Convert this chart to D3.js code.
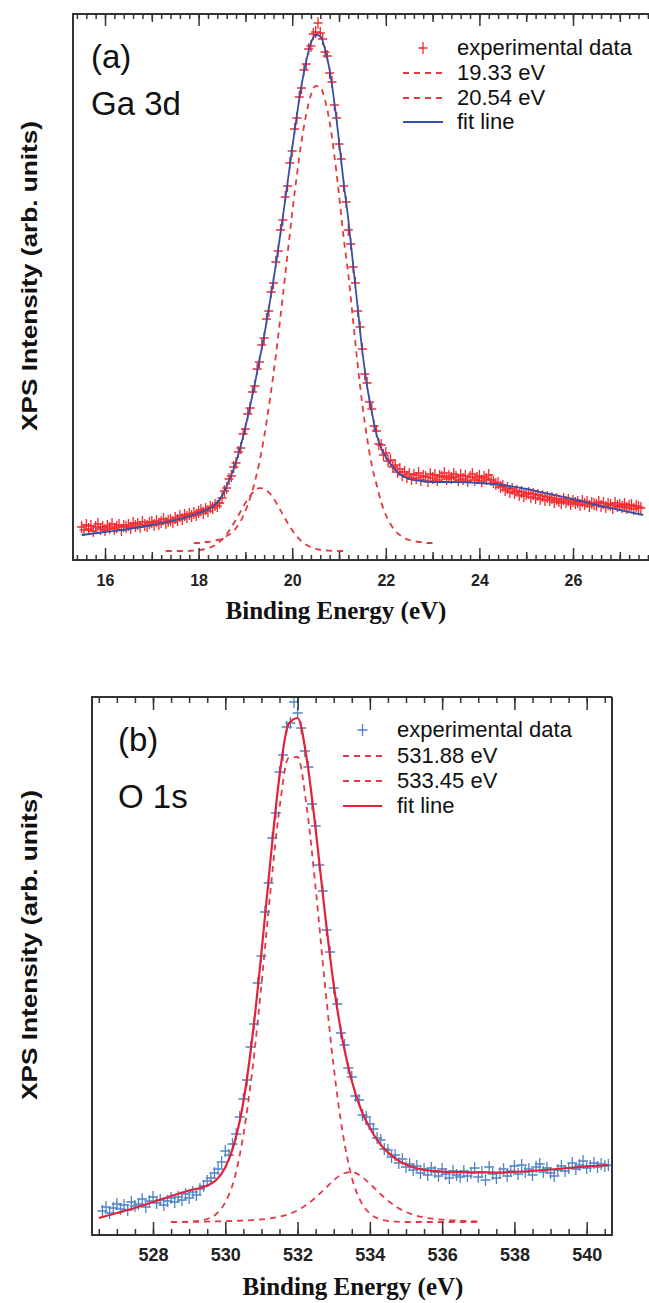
<!DOCTYPE html>
<html>
<head>
<meta charset="utf-8">
<script src="https://cdn.jsdelivr.net/npm/d3@7"></script>
<style>
  body { margin: 0; background: #fff; }
  svg { display: block; }
  .tick text { font-family: "Liberation Sans", Arial, sans-serif; font-weight: bold; fill: #222; }
  .lab { font-family: "Liberation Sans", Arial, sans-serif; fill: #111; }
  .xtitle { font-family: "Liberation Serif", "Times New Roman", serif; font-weight: bold; fill: #111; }
</style>
</head>
<body>
<svg id="chart" width="649" height="1303"></svg>
<script>
// ---- panel (a): Ga 3d ----
var gaStart = 15.5, gaStep = 0.05;   // measurement grid (eV)
var gaCounts = [
  33, 30, 35, 31, 34, 29, 33, 36, 31, 33, 30, 34, 32, 36, 31, 33, 35, 30, 34, 33,
  35, 32, 37, 34, 36, 33, 38, 35, 34, 37, 38, 35, 39, 36, 38, 41, 37, 39, 40, 38,
  42, 40, 44, 41, 45, 43, 46, 44, 47, 45, 48, 50, 47, 51, 49, 53, 52, 55, 54, 57,
  62, 69, 72, 81, 84, 93, 97, 108, 112, 126, 131, 146, 152, 168, 174, 191, 198, 215, 222, 241,
  249, 268, 277, 298, 309, 330, 340, 363, 374, 397, 409, 431, 442, 463, 472, 490, 496, 511, 514, 526,
  528, 537, 527, 521, 508, 504, 487, 478, 455, 442, 416, 401, 374, 358, 330, 316, 293, 277, 249, 233,
  211, 186, 177, 158, 151, 134, 129, 116, 115, 105, 107, 99, 100, 93, 95, 88, 91, 85, 88, 83,
  86, 81, 85, 82, 87, 80, 84, 83, 79, 86, 82, 85, 80, 84, 83, 87, 81, 84, 82, 86,
  83, 80, 85, 81, 84, 79, 83, 86, 80, 82, 84, 79, 83, 81, 85, 80, 78, 76, 77, 73,
  74, 70, 72, 68, 71, 67, 69, 65, 68, 64, 66, 67, 63, 66, 62, 65, 61, 64, 60, 63,
  60, 62, 58, 61, 59, 57, 61, 58, 60, 56, 59, 57, 58, 55, 59, 56, 58, 54, 57, 56,
  55, 58, 54, 57, 53, 56, 55, 52, 57, 54, 55, 53, 56, 52, 54, 55, 51, 54, 53, 52
];
var gaCompStep = 0.1;
var gaPeak1Start = 17.3;  // 19.33 eV component
var gaPeak1 = [9, 9, 9, 9, 9, 9.2, 9.4, 9.8, 10.5, 11.7, 13.6, 16.4, 20.5, 25.9, 32.6, 40.5, 48.9, 57.1, 64.3, 69.4,
  71.9, 71.2, 67.7, 61.6, 53.9, 45.5, 37.2, 29.8, 23.6, 18.7, 15.2, 12.7, 11.1, 10.2, 9.6, 9.3, 9.1, 9, 9, 9];
var gaPeak2Start = 17.9;  // 20.54 eV component
var gaPeak2 = [17, 17, 18, 18, 19, 20, 21, 24, 27, 32, 39, 49, 62, 78, 98, 123, 153, 186, 224, 264, 306,
  347, 385, 419, 446, 465, 474, 473, 460, 438, 405, 365, 322, 285, 240, 195, 155, 122, 95, 76, 58,
  45, 36, 29, 25, 22, 20, 19, 18, 18, 17, 17, 17];
var gaFitEnergy = [15.5, 16, 16.5, 17, 17.5, 18, 18.25, 18.5, 18.6, 18.7, 18.8, 18.9, 19.0, 19.1, 19.2, 19.3, 19.4,
  19.5, 19.6, 19.7, 19.8, 19.9, 20.0, 20.1, 20.2, 20.3, 20.4, 20.5, 20.6, 20.7, 20.8, 20.9, 21.0, 21.1, 21.2,
  21.3, 21.4, 21.5, 21.6, 21.7, 21.8, 21.9, 22.0, 22.1, 22.2, 22.3, 22.4, 22.5, 22.75, 23, 23.5, 24, 24.5,
  25, 25.5, 26, 26.5, 27, 27.5];
var gaFit = [25, 28, 31, 35, 40, 47, 52, 64, 74, 85, 98, 114, 133, 154, 176, 200, 224,
  252, 280, 311, 343, 377, 412, 445, 475, 499, 517, 525, 524, 511, 490, 458, 419, 377, 340,
  296, 252, 208, 174, 148, 126, 112, 103, 96, 90, 86, 83, 81, 79, 78, 78, 77, 75,
  71, 66, 61, 55, 50, 45];
var gaLegend = ["experimental data", "19.33 eV", "20.54 eV", "fit line"];

// ---- panel (b): O 1s ----
var oStart = 526.6, oStep = 0.1;
var oCounts = [
  24, 28, 22, 27, 31, 26, 30, 25, 33, 29,
  31, 36, 28, 34, 38, 32, 35, 30, 34, 37,
  33, 38, 35, 41, 37, 43, 40, 46, 49, 54,
  57, 62, 66, 73, 84, 80, 91, 101, 118, 136,
  155, 188, 211, 252, 279, 323, 352, 397, 422, 463,
  480, 508, 512, 533, 522, 507, 484, 468, 431, 409,
  370, 344, 305, 283, 247, 231, 202, 190, 167, 158,
  139, 135, 120, 118, 111, 106, 97, 95, 86, 85,
  78, 80, 72, 76, 68, 71, 65, 69, 62, 66,
  60, 67, 63, 59, 66, 61, 57, 64, 60, 58,
  64, 59, 62, 67, 58, 63, 55, 68, 61, 57,
  62, 66, 59, 64, 69, 61, 70, 63, 66, 60,
  68, 71, 63, 67, 62, 59, 65, 69, 64, 67,
  72, 66, 70, 74, 67, 69, 72, 68, 71, 69,
  70
];
var oCompStart = 528.5, oCompStep = 0.25;
var oPeak1 = [13, 13.1, 13.3, 14, 16, 21, 32.7, 56, 100, 165, 250, 344, 427, 477, 478, 429, 347, 253, 168,
  102, 57.5, 33.4, 21.5, 16.1, 14, 13.3, 13, 13, 13, 13, 13, 13, 13, 13, 13];
var oPeak2 = [12.9, 13.0, 13.1, 13.2, 13.4, 13.6, 13.8, 14.1, 14.4, 14.9, 15.6, 16.6, 18.3, 20.8, 24.7, 30.3,
  37.5, 46.0, 54.7, 61.2, 63, 59.0, 51.3, 42.5, 34.4, 27.8, 23.0, 19.7, 17.5, 16.2, 15.3, 14.7, 14.3, 13.9, 13.7];
var oFitEnergy = [526.5, 527, 527.5, 528, 528.5, 529, 529.5, 529.75, 530, 530.25, 530.5, 530.75, 531, 531.25,
  531.5, 531.75, 532, 532.25, 532.5, 532.75, 533, 533.25, 533.5, 533.75, 534, 534.25, 534.5, 534.75, 535,
  535.25, 535.5, 535.75, 536, 536.5, 537, 537.5, 538, 538.5, 539, 539.5, 540, 540.6];
var oFit = [17, 22, 27, 33, 39, 44.5, 49.5, 55, 67.5, 91.6, 133, 198, 282, 375,
  459, 511, 517, 477, 406, 324, 250, 194, 154, 126, 107, 92.7, 82.6, 75.4, 70.5,
  67.3, 65.2, 64.1, 63.3, 62.8, 62.7, 62.5, 63, 64, 65.5, 67, 68.5, 70];
var oLegend = ["experimental data", "531.88 eV", "533.45 eV", "fit line"];

var svg = d3.select("#chart");

function series(start, step, vals) {
  return vals.map(function(v, i) { return [start + i * step, v]; });
}
function pairs(xs, ys) {
  return xs.map(function(x, i) { return [x, ys[i]]; });
}

function drawPanel(p) {
  var x = d3.scaleLinear().domain(p.xDomain).range([p.left, p.right]);
  var y = d3.scaleLinear().domain([0, p.yMax]).range([p.bottom, p.top]);
  var g = svg.append("g");

  var clipId = "clip" + p.id;
  svg.append("clipPath").attr("id", clipId).append("rect")
    .attr("x", p.left).attr("y", p.top).attr("width", p.right - p.left).attr("height", p.bottom - p.top);

  var line = d3.line().x(function(d) { return x(d[0]); }).y(function(d) { return y(d[1]); })
    .curve(d3.curveMonotoneX);

  var plot = g.append("g").attr("clip-path", "url(#" + clipId + ")");

  // components
  p.comps.forEach(function(c) {
    plot.append("path").datum(c).attr("d", line)
      .attr("fill", "none").attr("stroke", p.dashColor).attr("stroke-width", 1.8)
      .attr("stroke-dasharray", "6,5");
  });

  // experimental crosses
  var cross = "M-" + p.cw + ",0H" + p.cw + "M0,-" + p.ch + "V" + p.ch;
  plot.append("g").selectAll("path").data(p.data).enter().append("path")
    .attr("transform", function(d) { return "translate(" + x(d[0]) + "," + y(d[1]) + ")"; })
    .attr("d", cross).attr("stroke", p.dataColor).attr("stroke-width", 1.3).attr("fill", "none");

  // fit
  plot.append("path").datum(p.fit).attr("d", line)
    .attr("fill", "none").attr("stroke", p.fitColor).attr("stroke-width", p.fitWidth);

  // ticks, bottom and top, pointing inward
  function ticks(vals, len, labelled) {
    var inDom = vals.filter(function(v) { return v >= p.xDomain[0] && v <= p.xDomain[1]; });
    var b = d3.axisBottom(x).tickValues(inDom).tickSize(-len).tickPadding(p.tickPad)
      .tickFormat(labelled ? d3.format("d") : "");
    var t = d3.axisTop(x).tickValues(inDom).tickSize(-len).tickFormat("");
    var gb = g.append("g").attr("transform", "translate(0," + p.bottom + ")").call(b);
    var gt = g.append("g").attr("transform", "translate(0," + p.top + ")").call(t);
    [gb, gt].forEach(function(a) {
      a.select(".domain").remove();
      a.selectAll("line").attr("stroke", "#333").attr("stroke-width", 1.5);
    });
    gb.selectAll("text").style("font-size", p.tickFont + "px");
  }
  ticks(p.minor, p.tickLen[0], false);
  if (p.mid) ticks(p.mid, p.tickLen[1], false);
  ticks(p.major, p.tickLen[2], true);

  // frame
  g.append("path")
    .attr("d", "M" + p.right + "," + p.top + "H" + p.left + "V" + p.bottom + "H" + p.right +
      (p.closed ? "V" + p.top : ""))
    .attr("fill", "none").attr("stroke", "#333").attr("stroke-width", 2);

  // titles
  g.append("text").attr("class", "xtitle").attr("x", p.xTitle[0]).attr("y", p.xTitle[1])
    .attr("text-anchor", "middle").style("font-size", "25px").text("Binding Energy (eV)");
  g.append("text").attr("class", "lab").attr("text-anchor", "middle")
    .attr("transform", "translate(" + p.yTitle[0] + "," + p.yTitle[1] + ") rotate(-90)")
    .attr("textLength", 310).attr("lengthAdjust", "spacingAndGlyphs")
    .style("font-size", "22px").style("font-weight", "bold").text("XPS Intensity (arb. units)");

  // panel labels
  g.append("text").attr("class", "lab").attr("x", p.tag[0]).attr("y", p.tag[1])
    .style("font-size", "33px").text(p.tagText[0]);
  g.append("text").attr("class", "lab").attr("x", p.tag[0]).attr("y", p.tag[2])
    .style("font-size", "33px").text(p.tagText[1]);

  // legend
  var lg = g.append("g");
  p.legend.forEach(function(name, i) {
    var by = p.legY[i], cy = by - 7;
    if (i === 0) {
      lg.append("path").attr("transform", "translate(" + (p.legX[0] + p.legX[1]) / 2 + "," + cy + ")")
        .attr("d", cross).attr("stroke", p.dataColor).attr("stroke-width", 1.3);
    } else {
      lg.append("line").attr("x1", p.legX[0]).attr("x2", p.legX[1]).attr("y1", cy).attr("y2", cy)
        .attr("stroke", i === 3 ? p.fitColor : p.dashColor)
        .attr("stroke-width", i === 3 ? p.fitWidth : 1.8)
        .attr("stroke-dasharray", i === 3 ? null : "6,5");
    }
    lg.append("text").attr("class", "lab").attr("x", p.legX[2]).attr("y", by)
      .style("font-size", "22px").text(name);
  });
}

drawPanel({
  id: "a", left: 73, right: 655, top: 14, bottom: 560, closed: false,
  xDomain: [15.316, 27.752], yMax: 546,
  data: series(gaStart, gaStep, gaCounts),
  comps: [series(gaPeak1Start, gaCompStep, gaPeak1), series(gaPeak2Start, gaCompStep, gaPeak2)],
  fit: pairs(gaFitEnergy, gaFit),
  dataColor: "#f5282c", dashColor: "#e23a3f", fitColor: "#3552a6", fitWidth: 1.8,
  cw: 4.5, ch: 6,
  minor: d3.range(77, 139).map(function(i) { return i / 5; }),
  mid: d3.range(15, 28, 2),
  major: d3.range(16, 28, 2),
  tickLen: [5, 8, 12], tickFont: 16, tickPad: 15,
  xTitle: [336, 619], yTitle: [37, 276],
  tag: [91, 68, 115], tagText: ["(a)", "Ga 3d"],
  legend: gaLegend, legY: [55, 80, 105, 129], legX: [403, 443, 457]
});

drawPanel({
  id: "b", left: 92, right: 612, top: 697, bottom: 1235, closed: true,
  xDomain: [526.312, 540.70], yMax: 538,
  data: series(oStart, oStep, oCounts),
  comps: [series(oCompStart, oCompStep, oPeak1), series(oCompStart, oCompStep, oPeak2)],
  fit: pairs(oFitEnergy, oFit),
  dataColor: "#4f84c4", dashColor: "#e23a46", fitColor: "#e3223a", fitWidth: 2.2,
  cw: 5, ch: 6,
  minor: d3.range(1053, 1082).map(function(i) { return i / 2; }),
  mid: null,
  major: d3.range(528, 541, 2),
  tickLen: [6, 6, 13], tickFont: 18, tickPad: 13,
  xTitle: [353, 1295], yTitle: [37, 945],
  tag: [118, 751, 808], tagText: ["(b)", "O 1s"],
  legend: oLegend, legY: [737, 763, 788, 813], legX: [343, 382, 397]
});
</script>
</body>
</html>
